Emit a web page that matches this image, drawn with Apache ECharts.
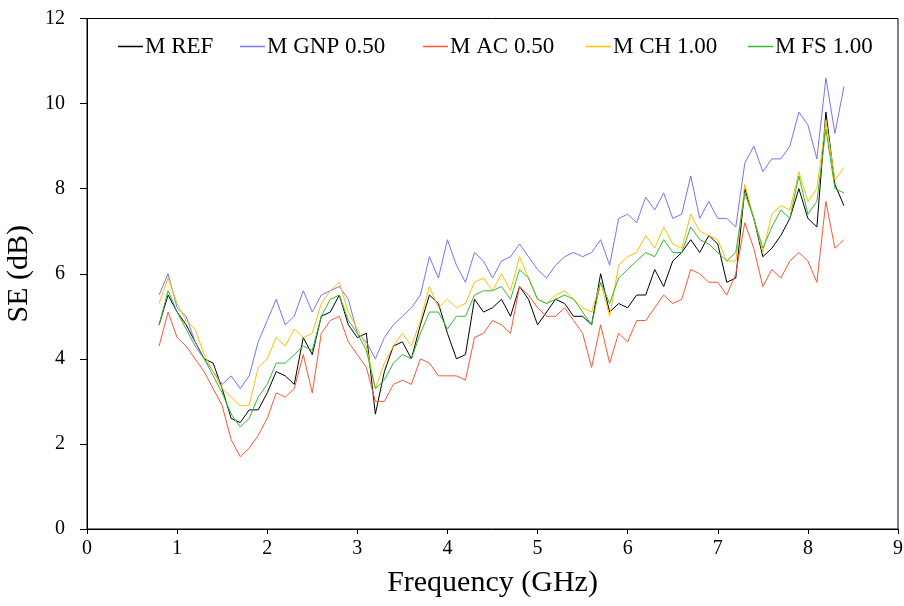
<!DOCTYPE html>
<html>
<head>
<meta charset="utf-8">
<script src="https://cdn.jsdelivr.net/npm/echarts@6/dist/echarts.min.js"></script>
<style>
html,body{margin:0;padding:0;background:#fff;}
#chart{width:904px;height:606px;}
</style>
</head>
<body>
<div id="chart"></div>
<script>
const freq = [0.8,0.9,1.0,1.1,1.2,1.3,1.4,1.5,1.6,1.7,1.8,1.9,2.0,2.1,2.2,2.3,2.4,2.5,2.6,2.7,2.8,2.9,3.0,3.1,3.2,3.3,3.4,3.5,3.6,3.7,3.8,3.9,4.0,4.1,4.2,4.3,4.4,4.5,4.6,4.7,4.8,4.9,5.0,5.1,5.2,5.3,5.4,5.5,5.6,5.7,5.8,5.9,6.0,6.1,6.2,6.3,6.4,6.5,6.6,6.7,6.8,6.9,7.0,7.1,7.2,7.3,7.4,7.5,7.6,7.7,7.8,7.9,8.0,8.1,8.2,8.3,8.4];

const seRef = [4.8,5.5,5.1,4.8,4.4,4.0,3.9,3.3,2.6,2.5,2.8,2.8,3.2,3.7,3.6,3.4,4.5,4.1,5.0,5.1,5.5,4.8,4.5,4.6,2.7,3.7,4.3,4.4,4.0,4.8,5.5,5.3,4.6,4.0,4.1,5.4,5.1,5.2,5.4,5.0,5.7,5.4,4.8,5.1,5.4,5.3,5.0,5.0,4.8,6.0,5.1,5.3,5.2,5.5,5.5,6.1,5.7,6.3,6.5,6.8,6.5,6.9,6.7,5.8,5.9,8.0,7.3,6.4,6.6,6.9,7.3,8.0,7.3,7.1,9.8,8.1,7.6];

const seGnp = [5.5,6.0,5.2,5.0,4.4,4.0,3.7,3.4,3.6,3.3,3.6,4.4,4.9,5.4,4.8,5.0,5.6,5.1,5.5,5.6,5.7,5.4,4.6,4.4,4.0,4.5,4.8,5.0,5.2,5.5,6.4,5.9,6.8,6.2,5.8,6.5,6.3,5.9,6.3,6.4,6.7,6.4,6.1,5.9,6.2,6.4,6.5,6.4,6.5,6.8,6.2,7.3,7.4,7.2,7.8,7.5,7.9,7.3,7.4,8.3,7.3,7.7,7.3,7.3,7.1,8.6,9.0,8.4,8.7,8.7,9.0,9.8,9.5,8.7,10.6,9.3,10.4];

const seAc = [4.3,5.1,4.5,4.3,4.0,3.7,3.3,2.9,2.1,1.7,1.9,2.2,2.6,3.2,3.1,3.3,4.1,3.2,4.6,4.9,5.0,4.4,4.1,3.8,3.0,3.0,3.4,3.5,3.4,4.0,3.9,3.6,3.6,3.6,3.5,4.5,4.6,4.9,4.8,4.6,5.7,5.5,5.2,5.0,5.0,5.2,4.9,4.6,3.8,4.8,3.9,4.6,4.4,4.9,4.9,5.2,5.5,5.3,5.4,6.1,6.0,5.8,5.8,5.5,6.0,7.2,6.6,5.7,6.1,5.9,6.3,6.5,6.3,5.8,7.7,6.6,6.8];

const seCh = [5.3,5.9,5.3,4.9,4.7,4.1,3.7,3.3,3.1,2.9,2.9,3.8,4.0,4.5,4.3,4.7,4.5,4.6,5.3,5.6,5.8,5.1,4.7,4.3,3.3,3.9,4.3,4.6,4.3,4.9,5.7,5.2,5.4,5.2,5.3,5.8,5.9,5.6,6.0,5.6,6.4,5.9,5.4,5.3,5.5,5.6,5.4,5.2,5.1,5.8,5.0,6.2,6.4,6.5,6.9,6.6,7.1,6.7,6.6,7.4,7.0,6.9,6.8,6.3,6.3,8.1,7.3,6.5,7.4,7.6,7.5,8.4,7.7,8.0,9.6,8.2,8.5];

const seFs = [4.8,5.6,5.1,4.7,4.3,4.0,3.6,3.2,2.7,2.4,2.6,3.1,3.4,3.9,3.9,4.1,4.3,4.2,5.0,5.4,5.5,4.9,4.6,4.2,3.3,3.5,3.9,4.1,4.0,4.6,5.1,5.1,4.7,5.0,5.0,5.5,5.6,5.6,5.7,5.4,6.1,5.9,5.4,5.3,5.4,5.5,5.4,5.1,4.8,5.8,5.3,5.9,6.1,6.3,6.5,6.4,6.8,6.5,6.5,7.1,6.8,6.7,6.5,6.3,6.5,7.9,7.3,6.6,7.1,7.5,7.3,8.3,7.4,7.7,9.4,8.0,7.9];

const seriesNames = ['M REF','M GNP 0.50','M AC 0.50','M CH 1.00','M FS 1.00'];
const seriesValues = [seRef, seGnp, seAc, seCh, seFs];
const seriesColors = ['#000000','#7474ff','#ff5533','#ffc000','#33bb33'];
const legendLefts = [118, 240, 423, 586, 748];

const FONT = "'Liberation Serif','Times New Roman',serif";

const chart = echarts.init(document.getElementById('chart'), null, {renderer:'canvas'});

const series = seriesNames.map((name, i) => ({
  name: name,
  type: 'line',
  data: freq.map((f, j) => [f, seriesValues[i][j]]),
  showSymbol: false,
  symbol: 'none',
  lineStyle: {color: seriesColors[i], width: 1},
  itemStyle: {color: seriesColors[i]},
  emphasis: {disabled: true},
  animation: false
}));

const legends = seriesNames.map((name, i) => ({
  data: [{name: name, icon: 'rect', itemStyle: {color: seriesColors[i]}}],
  left: legendLefts[i],
  top: 35,
  itemWidth: 25,
  itemHeight: 1.5,
  itemGap: 0,
  padding: 0,
  textStyle: {fontFamily: FONT, fontSize: 23, color: '#000', padding: [0,0,0,-3]},
  selectedMode: false
}));

chart.setOption({
  backgroundColor: '#fff',
  animation: false,
  legend: legends,
  grid: {left: 87, right: 6, top: 18.5, bottom: 77, show: true, borderColor: '#000', borderWidth: 1,
         backgroundColor: 'transparent', containLabel: false, outerBoundsMode: 'none'},
  xAxis: {
    type: 'value', min: 0, max: 9, interval: 1,
    name: 'Frequency (GHz)', nameLocation: 'middle', nameGap: 39,
    nameTextStyle: {fontFamily: FONT, fontSize: 30, color: '#000'},
    axisLine: {show: true, lineStyle: {color: '#000', width: 1}},
    axisTick: {show: true, inside: false, length: 5, lineStyle: {color: '#000'}},
    axisLabel: {fontFamily: FONT, fontSize: 20, color: '#000', margin: 10},
    splitLine: {show: false}
  },
  yAxis: {
    type: 'value', min: 0, max: 12, interval: 2,
    name: 'SE (dB)', nameLocation: 'middle', nameGap: 52,
    nameTextStyle: {fontFamily: FONT, fontSize: 30, color: '#000'},
    axisLine: {show: true, lineStyle: {color: '#000', width: 1}},
    axisTick: {show: true, inside: false, length: 7, lineStyle: {color: '#000'}},
    axisLabel: {fontFamily: FONT, fontSize: 20, color: '#000', margin: 22},
    splitLine: {show: false}
  },
  series: series
});
</script>
</body>
</html>
